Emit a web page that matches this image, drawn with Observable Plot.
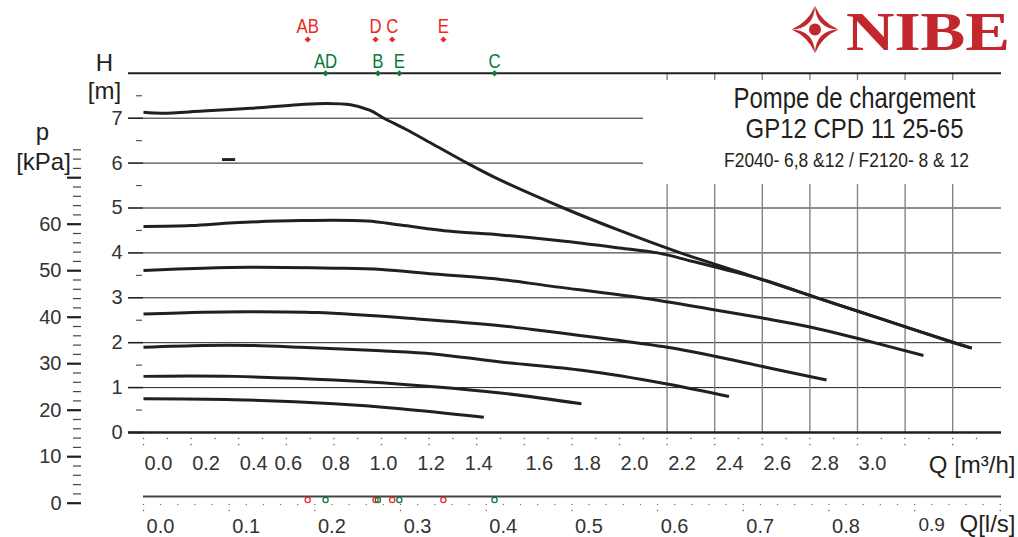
<!DOCTYPE html>
<html><head><meta charset="utf-8">
<script src="https://cdn.jsdelivr.net/npm/d3@7"></script>
<script src="https://cdn.jsdelivr.net/npm/@observablehq/plot@0.6"></script>
<style>
html,body{margin:0;padding:0;background:#fff;}
#chart{width:1018px;height:537px;overflow:hidden;}
#chart svg text{font-family:"Liberation Sans", Arial, Helvetica, sans-serif;}
</style></head><body><div id="chart"></div>
<script>
// ---------- data ----------
// pump curves: [Q m3/h, H m]
const curveSpeed7 = [[0,7.13],[0.08,7.11],[0.25,7.16],[0.45,7.22],[0.65,7.30],[0.77,7.33],[0.87,7.30],[0.95,7.18],[1.01,7.0],[1.1,6.76],[1.22,6.41],[1.36,6.0],[1.5,5.62],[1.765,5.0],[2.0,4.5],[2.256,4.0],[2.5,3.58],[2.83,3.0],[3.1,2.53],[3.406,2.0],[3.48,1.88]];
const curveSpeed6 = [[0,4.59],[0.2,4.61],[0.38,4.67],[0.66,4.72],[0.94,4.71],[1.08,4.62],[1.29,4.48],[1.5,4.40],[1.75,4.27],[2.0,4.11],[2.16,4.0],[2.3,3.82],[2.45,3.62],[2.61,3.39],[2.83,3.0],[3.1,2.53],[3.406,2.0],[3.48,1.88]];
const curveSpeed5 = [[0,3.61],[0.25,3.66],[0.45,3.68],[0.8,3.66],[1.0,3.63],[1.22,3.53],[1.5,3.41],[1.71,3.26],[2.09,3.0],[2.39,2.74],[2.61,2.54],[2.805,2.345],[3.007,2.087],[3.277,1.715]];
const curveSpeed4 = [[0,2.64],[0.25,2.68],[0.45,2.69],[0.73,2.67],[1.15,2.53],[1.5,2.38],[1.58,2.33],[2.2,1.90],[2.39,1.71],[2.61,1.46],[2.87,1.17]];
const curveSpeed3 = [[0,1.90],[0.25,1.94],[0.45,1.94],[0.66,1.90],[1.0,1.82],[1.22,1.75],[1.5,1.57],[1.85,1.38],[2.2,1.08],[2.46,0.80]];
const curveSpeed2 = [[0,1.25],[0.2,1.26],[0.38,1.25],[0.8,1.17],[1.22,1.02],[1.5,0.88],[1.84,0.64]];
const curveSpeed1 = [[0,0.75],[0.38,0.73],[0.8,0.64],[1.08,0.53],[1.43,0.34]];
const curves = [curveSpeed7, curveSpeed6, curveSpeed5, curveSpeed4, curveSpeed3, curveSpeed2, curveSpeed1];

// operating point markers (Q m3/h)
const redLabels = ["AB","D","C","E"];
const redQ = [0.69, 0.975, 1.045, 1.26];
const greenLabels = ["AD","B","E","C"];
const greenQ = [0.765, 0.985, 1.075, 1.475];

// stray mark in the original [Q1,Q2,H1,H2]
const strayMark = [[0.332, 0.387, 6.035, 6.10]];

// tick labels
const hTickValues = [0,1,2,3,4,5,6,7];
const hMinorTicks = [0.5,1.5,2.5,3.5,4.5,5.5,6.5,7.5];
const kpaTickValues = [0,10,20,30,40,50,60];
const kpaMajorTicks = [0,10,20,30,40,50,60,70];
const kpaMinorTicks = [2,4,6,8,12,14,16,18,22,24,26,28,32,34,36,38,42,44,46,48,52,54,56,58,62,64,66,68,72,74,76];
const qTickValues = [0,0.2,0.4,0.6,0.8,1.0,1.2,1.4,1.6,1.8,2.0,2.2,2.4,2.6,2.8,3.0];
const qTickLabels = ["0.0","0.2","0.4","0.6","0.8","1.0","1.2","1.4","1.6","1.8","2.0","2.2","2.4","2.6","2.8","3.0"];
const qDotTicks = d3.range(0, 3.55, 0.1);
const qDotMajor = d3.range(0, 3.45, 0.2);
const lsTickValues = [0,0.1,0.2,0.3,0.4,0.5,0.6,0.7,0.8];
const lsTickLabels = ["0.0","0.1","0.2","0.3","0.4","0.5","0.6","0.7","0.8"];
const lsDotTicks = d3.range(0, 1.001, 0.02);
const lsDotMajor = d3.range(0, 1.001, 0.1);
const gridVerticalQ = [2.2,2.4,2.6,2.8,3.0,3.2,3.4];
const gridHFull = [1,2,3,4,5];
const gridHShort = [6,7];
const titleLines = ["Pompe de chargement", "GP12 CPD 11 25-65", "F2040- 6,8 &12 / F2120- 8 & 12"];

// ---------- layout (pixel mapping) ----------
const W = 1018, HT = 537;
const X0 = 143, Y0 = 432, PXQ = 238, PXH = 44.9;
const qx = px => (px - X0) / PXQ;
const hy = py => (Y0 - py) / PXH;
const kpaY = p => hy(502.7 - 4.65 * p);
const LS = 3.6; // l/s -> m3/h
const INK = "#231f20", TXT = "#333", RED = "#ec2a24", GREEN = "#0a7a3a", GRID = "#858585";

const marks = [
  // grid
  Plot.ruleY(gridHFull, {x1: 0, x2: qx(1001), stroke: INK, strokeWidth: 1}),
  Plot.ruleY(gridHShort, {x1: 0, x2: qx(643), stroke: INK, strokeWidth: 1}),
  Plot.ruleX(gridVerticalQ, {y1: 0, y2: hy(184), stroke: GRID, strokeWidth: 1.4}),
  Plot.ruleX(gridVerticalQ, {y1: hy(80), y2: 8, stroke: GRID, strokeWidth: 1.4}),
  Plot.ruleY([8], {x1: qx(128), x2: qx(1001), stroke: INK, strokeWidth: 2}),
  Plot.ruleY([0], {x1: qx(128), x2: qx(1001), stroke: INK, strokeWidth: 2.6}),
  // H axis
  Plot.ruleY(hTickValues, {x1: qx(128), x2: qx(143), stroke: INK, strokeWidth: 1.6}),
  Plot.ruleY(hMinorTicks, {x1: qx(136), x2: qx(142), stroke: "#555", strokeWidth: 1.2}),
  Plot.text(hTickValues, {x: qx(122), y: d => d, text: d => String(d), textAnchor: "end", fontSize: 20, fill: TXT}),
  // kPa axis
  Plot.ruleY(kpaMajorTicks, {y: kpaY, x1: qx(67), x2: qx(81), stroke: INK, strokeWidth: 2.2}),
  Plot.ruleY(kpaMinorTicks, {y: kpaY, x1: qx(73), x2: qx(81), stroke: "#444", strokeWidth: 1.2}),
  Plot.text(kpaTickValues, {x: qx(61), y: kpaY, text: d => String(d), textAnchor: "end", fontSize: 20, fill: TXT}),
  // stray mark
  Plot.rect(strayMark, {x1: d => d[0], x2: d => d[1], y1: d => d[2], y2: d => d[3], fill: INK}),
  // pump curves
  ...curves.map(c => Plot.line(c, {x: d => d[0], y: d => d[1], curve: "catmull-rom", stroke: INK, strokeWidth: 3, strokeLinecap: "butt"})),
  // Q m3/h axis
  Plot.dot(qDotTicks, {x: d => d, y: hy(438), r: 0.8, fill: "#666", stroke: null}),
  Plot.dot(qDotMajor, {x: d => d, y: hy(444), r: 0.8, fill: "#666", stroke: null}),
  Plot.text(qTickValues.map((v, i) => ({v, l: qTickLabels[i]})).filter(d => d.v < 0.5 || d.v > 1.5),
    {x: "v", y: hy(469), text: "l", dx: 15, lineAnchor: "bottom", fontSize: 20, fill: TXT}),
  Plot.text(qTickValues.map((v, i) => ({v, l: qTickLabels[i]})).filter(d => d.v > 0.5 && d.v < 1.5),
    {x: "v", y: hy(469), text: "l", dx: 2, lineAnchor: "bottom", fontSize: 20, fill: TXT}),
  Plot.text(["Q [m³/h]"], {x: qx(1015), y: hy(472), textAnchor: "end", lineAnchor: "bottom", fontSize: 24, fill: INK}),
  // l/s axis
  Plot.ruleY([hy(496)], {x1: 0, x2: qx(1001), stroke: "#444", strokeWidth: 2}),
  Plot.dot(lsDotTicks, {x: d => d * LS, y: hy(504), r: 0.7, fill: "#777", stroke: null}),
  Plot.dot(lsDotMajor, {x: d => d * LS, y: hy(510), r: 0.8, fill: "#666", stroke: null}),
  Plot.text(lsTickValues.map((v, i) => ({v, l: lsTickLabels[i]})),
    {x: d => d.v * LS, y: hy(532), text: "l", dx: 17, lineAnchor: "bottom", fontSize: 20, fill: TXT}),
  Plot.text(["0.9"], {x: 0.9 * LS, y: hy(530), dx: 17, lineAnchor: "bottom", fontSize: 19, fill: TXT}),
  Plot.text(["Q[l/s]"], {x: qx(1015), y: hy(531), textAnchor: "end", lineAnchor: "bottom", fontSize: 24, fill: INK}),
  // operating point markers
  Plot.dot(redQ, {x: d => d, y: hy(39), symbol: "diamond2", r: 2.8, fill: RED, stroke: null}),
  Plot.text(redQ, {x: d => d, y: hy(39), text: (d, i) => redLabels[i], dy: -7, lineAnchor: "bottom", fontSize: 21, fill: RED}),
  Plot.dot(greenQ, {x: d => d, y: 8, symbol: "diamond2", r: 2.8, fill: GREEN, stroke: null}),
  Plot.text(greenQ, {x: d => d, y: 8, text: (d, i) => greenLabels[i], dy: -5, lineAnchor: "bottom", fontSize: 21, fill: GREEN}),
  Plot.dot(redQ, {x: d => d, y: hy(499.5), r: 2.6, stroke: RED, fill: "white", strokeWidth: 1.3}),
  Plot.dot(greenQ, {x: d => d, y: hy(499.5), r: 2.6, stroke: GREEN, fill: "none", strokeWidth: 1.3}),
  // axis titles
  Plot.text(["H"], {x: qx(104), y: hy(70), textAnchor: "middle", lineAnchor: "bottom", fontSize: 24, fill: INK}),
  Plot.text(["[m]"], {x: qx(104), y: hy(98), textAnchor: "middle", lineAnchor: "bottom", fontSize: 24, fill: INK}),
  Plot.text(["p"], {x: qx(42), y: hy(139), textAnchor: "middle", lineAnchor: "bottom", fontSize: 24, fill: INK}),
  Plot.text(["[kPa]"], {x: qx(43), y: hy(169), textAnchor: "middle", lineAnchor: "bottom", fontSize: 24, fill: INK}),
  // chart title block
  Plot.text([titleLines[0]], {x: qx(854), y: hy(107), textAnchor: "middle", lineAnchor: "bottom", fontSize: 30, fill: INK}),
  Plot.text([titleLines[1]], {x: qx(854), y: hy(137), textAnchor: "middle", lineAnchor: "bottom", fontSize: 28, fill: INK}),
  Plot.text([titleLines[2]], {x: qx(846), y: hy(166.5), textAnchor: "middle", lineAnchor: "bottom", fontSize: 21, fill: INK})
];

const svg = Plot.plot({
  width: W, height: HT, margin: 0,
  x: {domain: [qx(0), qx(W)], axis: null},
  y: {domain: [hy(HT), hy(0)], axis: null},
  style: {background: "white"},
  marks
});
document.getElementById("chart").appendChild(svg);

// condense text horizontally (the original uses a narrow typeface)
function condense(t, k) {
  const tr = t.getAttribute("transform") || "";
  const xa = parseFloat(t.getAttribute("x"));
  if (!isNaN(xa) && xa !== 0) {
    t.setAttribute("transform", `${tr} translate(${xa},0) scale(${k},1) translate(${-xa},0)`);
  } else {
    t.setAttribute("transform", `${tr} scale(${k},1)`);
  }
}
const targets = {[titleLines[0]]: 242, [titleLines[1]]: 218, [titleLines[2]]: 245};
const markerSet = new Set([...redLabels, ...greenLabels]);
svg.querySelectorAll("text").forEach(t => {
  const s = t.textContent;
  const g = t.closest("g");
  const f = g ? g.getAttribute("fill") : null;
  if (targets[s]) {
    condense(t, targets[s] / t.getComputedTextLength());
  } else if (markerSet.has(s) && (f === RED || f === GREEN)) {
    condense(t, 0.8);
  }
});

// NIBE logo
const s = d3.select(svg);
const logo = s.append("g").attr("fill", "#c1272d").attr("text-anchor", "start");
const cx = 815, cy = 29.5, R = 23.5;
const quad = `M0,${-R} Q${-R*0.3},${-R*0.3} ${-R},0 Q${-R*0.04},${-R*0.04} 0,${-R} Z`;
[0, 90, 180, 270].forEach(a => logo.append("path").attr("d", quad).attr("transform", `translate(${cx},${cy}) rotate(${a})`));
logo.append("circle").attr("cx", cx).attr("cy", cy).attr("r", 6);
logo.append("text").text("NIBE").attr("x", 846).attr("y", 50).attr("text-anchor", "start")
  .attr("style", "font-family:'Liberation Serif','DejaVu Serif',serif;font-weight:bold;font-size:55px")
  .attr("textLength", 164).attr("lengthAdjust", "spacingAndGlyphs");
</script></body></html>
